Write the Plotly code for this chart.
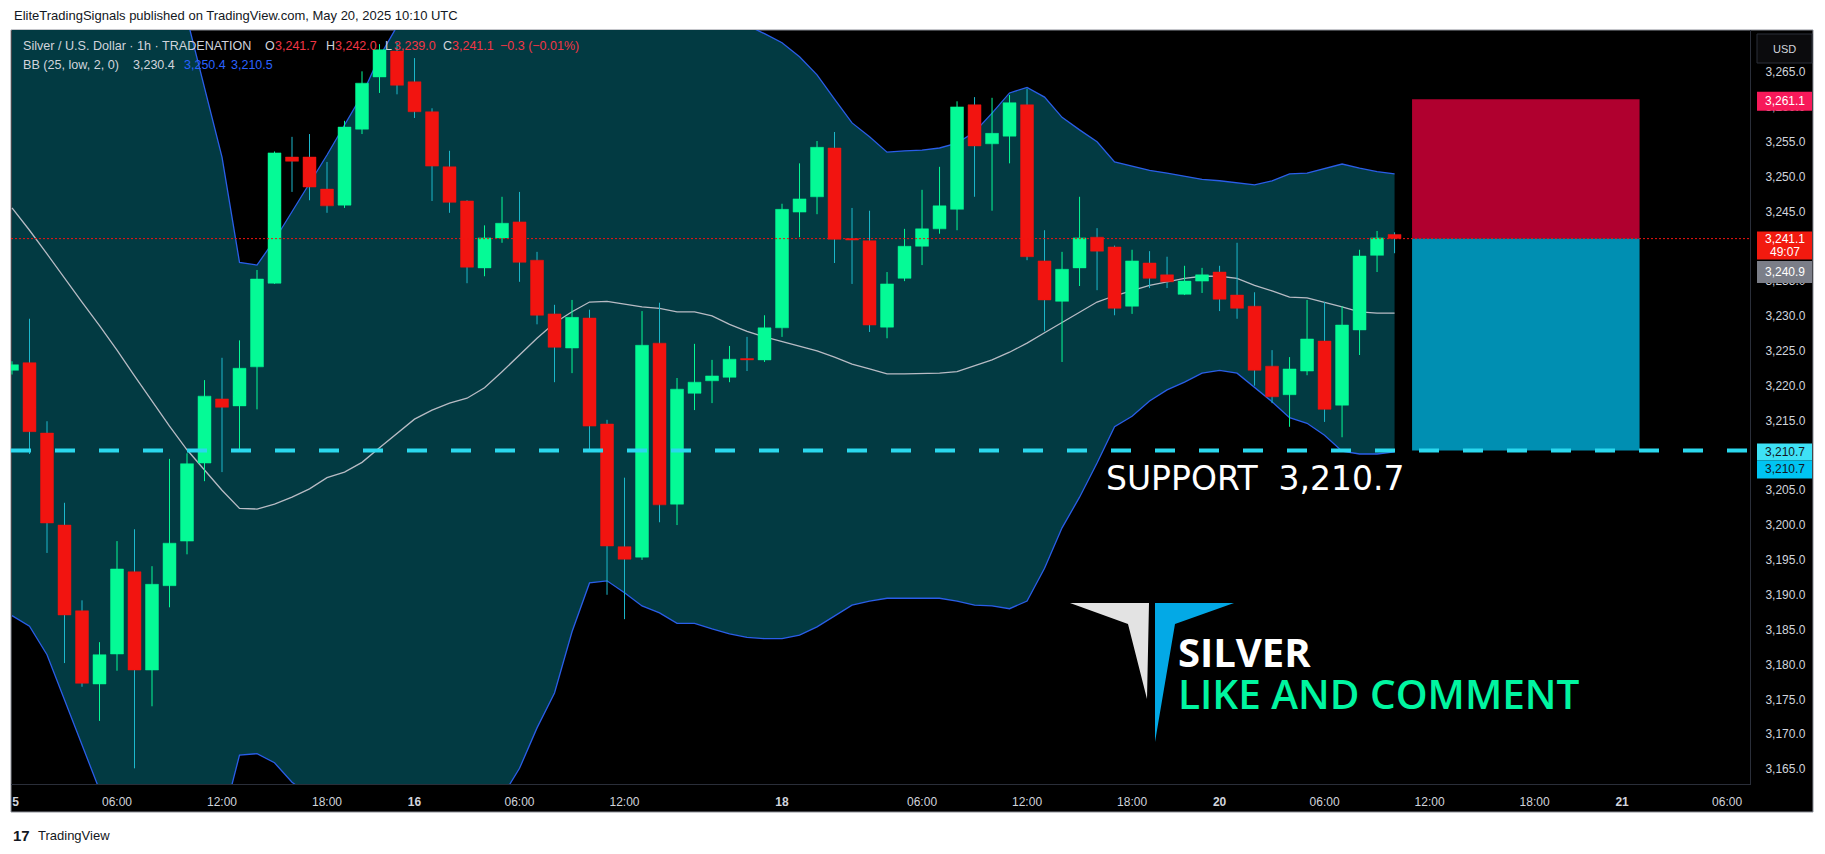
import plotly.graph_objects as go

# ---------------- data ----------------
bar_index = list(range(80))  # hourly bars, 0 = May 15 00:00

opens = [3222.2, 3223.3, 3213.2, 3200.0, 3187.7, 3177.2, 3181.5, 3193.3, 3179.2, 3191.3,
         3197.7, 3208.9, 3218.1, 3217.1, 3222.7, 3234.7, 3252.8, 3252.8, 3248.2, 3245.9,
         3256.8, 3264.3, 3268.0, 3263.6, 3259.3, 3251.4, 3246.5, 3236.9, 3241.2, 3243.5,
         3238.0, 3230.3, 3225.4, 3229.7, 3214.5, 3196.9, 3195.4, 3226.1, 3203.0, 3218.9,
         3220.7, 3221.2, 3223.9, 3223.7, 3228.3, 3244.9, 3247.1, 3254.1, 3241.1, 3240.8,
         3228.4, 3235.4, 3240.0, 3242.5, 3245.3, 3260.3, 3254.7, 3255.8, 3260.3, 3237.9,
         3232.1, 3236.9, 3241.3, 3239.9, 3231.4, 3237.6, 3235.9, 3233.1, 3235.0, 3236.3,
         3233.0, 3231.4, 3222.8, 3218.7, 3222.1, 3226.4, 3217.2, 3228.0, 3238.7, 3241.7]
highs = [3223.5, 3229.6, 3214.9, 3203.2, 3189.2, 3183.2, 3197.7, 3199.4, 3194.1, 3209.5,
         3210.3, 3220.8, 3224.0, 3226.5, 3236.6, 3253.6, 3255.7, 3256.1, 3252.1, 3258.0,
         3265.1, 3269.0, 3269.2, 3267.0, 3259.8, 3253.7, 3246.6, 3243.0, 3247.1, 3247.8,
         3239.2, 3231.6, 3232.3, 3230.9, 3215.1, 3206.8, 3230.7, 3231.9, 3221.1, 3226.0,
         3223.7, 3225.7, 3227.0, 3230.1, 3246.1, 3251.9, 3255.1, 3256.4, 3245.5, 3245.1,
         3236.3, 3242.5, 3248.1, 3251.4, 3260.8, 3261.4, 3261.3, 3261.7, 3262.6, 3242.3,
         3239.2, 3247.1, 3242.6, 3240.1, 3239.5, 3239.3, 3238.5, 3237.2, 3236.9, 3237.2,
         3240.5, 3233.4, 3225.1, 3224.1, 3232.3, 3232.0, 3231.4, 3239.5, 3242.2, 3242.0]
lows = [3221.6, 3210.2, 3196.0, 3180.2, 3176.8, 3171.9, 3179.1, 3165.1, 3174.0, 3188.2,
        3195.8, 3206.3, 3207.6, 3210.8, 3216.6, 3234.6, 3247.8, 3246.6, 3244.8, 3245.5,
        3256.1, 3262.0, 3261.8, 3258.4, 3246.5, 3244.8, 3234.7, 3235.7, 3240.5, 3234.9,
        3228.8, 3220.5, 3221.8, 3210.8, 3190.0, 3186.5, 3195.0, 3200.4, 3200.0, 3216.5,
        3217.5, 3220.5, 3222.1, 3223.4, 3227.0, 3241.3, 3244.6, 3237.6, 3234.6, 3227.7,
        3226.8, 3235.0, 3237.3, 3241.8, 3242.3, 3247.1, 3245.1, 3251.9, 3238.0, 3227.8,
        3223.4, 3234.3, 3233.7, 3230.1, 3230.3, 3234.0, 3234.0, 3233.0, 3233.3, 3230.7,
        3229.6, 3220.0, 3217.5, 3214.1, 3221.5, 3214.8, 3212.6, 3224.4, 3236.3, 3239.0]
closes = [3223.0, 3213.4, 3200.3, 3187.1, 3177.3, 3181.4, 3193.7, 3179.2, 3191.5, 3197.4,
          3208.8, 3218.5, 3216.9, 3222.5, 3235.3, 3253.4, 3252.2, 3248.5, 3245.8, 3257.1,
          3263.4, 3268.2, 3263.1, 3259.3, 3251.5, 3246.3, 3237.0, 3241.2, 3243.3, 3237.7,
          3230.1, 3225.5, 3229.8, 3214.2, 3197.0, 3195.1, 3225.8, 3202.9, 3219.5, 3220.5,
          3221.4, 3223.8, 3223.7, 3228.3, 3245.3, 3246.8, 3254.2, 3241.0, 3240.9, 3228.7,
          3234.6, 3240.0, 3242.5, 3245.8, 3260.0, 3254.4, 3256.2, 3260.6, 3238.5, 3232.3,
          3236.7, 3241.2, 3239.3, 3231.1, 3237.9, 3235.4, 3234.9, 3235.0, 3235.9, 3232.4,
          3231.1, 3222.2, 3218.4, 3222.4, 3226.7, 3216.6, 3228.7, 3238.6, 3241.2, 3241.1]

bb_upper = [3304.0, 3299.1, 3296.4, 3295.9, 3295.6, 3295.2, 3290.2, 3285.8, 3282.6, 3278.4,
            3272.7, 3262.7, 3252.8, 3237.7, 3237.3, 3240.9, 3244.9, 3249.1, 3253.1, 3257.4,
            3261.7, 3267.2, 3271.7, 3275.9, 3278.5, 3280.0, 3280.4, 3281.4, 3283.0, 3283.7,
            3282.7, 3282.1, 3276.5, 3272.3, 3272.2, 3273.1, 3274.2, 3274.8, 3275.3, 3275.3,
            3274.9, 3273.2, 3271.7, 3270.5, 3269.2, 3267.2, 3264.6, 3261.1, 3257.7, 3255.7,
            3253.5, 3253.7, 3253.8, 3254.1, 3254.8, 3256.4, 3259.1, 3262.0, 3262.8, 3261.4,
            3258.5, 3256.7, 3255.0, 3252.1, 3251.5, 3250.9, 3250.5, 3250.1, 3249.6, 3249.4,
            3249.1, 3248.8, 3249.4, 3250.4, 3250.5, 3251.2, 3251.8, 3251.2, 3250.7, 3250.4]
bb_basis = [3245.5, 3242.3, 3238.9, 3235.4, 3232.0, 3228.6, 3225.1, 3221.4, 3217.8, 3214.2,
            3210.8, 3207.9, 3205.0, 3202.4, 3202.3, 3203.0, 3204.0, 3205.2, 3206.8, 3207.6,
            3209.0, 3211.1, 3213.2, 3215.2, 3216.5, 3217.5, 3218.2, 3219.7, 3222.0, 3224.4,
            3226.8, 3229.0, 3230.6, 3232.0, 3232.1, 3231.7, 3231.3, 3231.1, 3230.6, 3230.6,
            3230.0, 3228.8, 3227.8, 3227.0, 3226.3, 3225.7, 3225.0, 3224.1, 3223.1, 3222.4,
            3221.7, 3221.7, 3221.7, 3221.8, 3222.0, 3222.8, 3223.7, 3224.8, 3226.1, 3227.6,
            3229.1, 3230.6, 3232.0, 3232.9, 3233.7, 3234.4, 3234.9, 3235.4, 3235.7, 3235.7,
            3235.4, 3234.4, 3233.6, 3232.7, 3232.6, 3232.0, 3231.3, 3230.6, 3230.4, 3230.4]
bb_lower = [3187.0, 3185.5, 3181.4, 3174.9, 3168.4, 3162.0, 3160.0, 3157.0, 3153.0, 3150.0,
            3148.9, 3153.1, 3157.2, 3167.0, 3167.2, 3165.9, 3163.1, 3161.3, 3160.5, 3157.8,
            3156.3, 3155.0, 3154.7, 3154.5, 3154.5, 3155.0, 3156.0, 3158.0, 3161.0, 3165.1,
            3170.9, 3175.9, 3184.7, 3191.7, 3192.0, 3190.3, 3188.4, 3187.4, 3185.9, 3185.9,
            3185.1, 3184.4, 3183.9, 3183.7, 3183.7, 3184.2, 3185.4, 3187.0, 3188.5, 3189.1,
            3189.5, 3189.5, 3189.5, 3189.5, 3189.1, 3188.5, 3188.4, 3188.0, 3189.1, 3193.8,
            3199.6, 3204.0, 3208.9, 3214.1, 3215.6, 3217.8, 3219.4, 3220.5, 3221.8, 3222.2,
            3221.8, 3219.8, 3217.7, 3215.4, 3214.6, 3212.9, 3210.6, 3210.2, 3210.2, 3210.5]

tick_index = [0.2, 6, 12, 18, 23, 29, 35, 44, 52, 58, 64, 69, 75, 81, 87, 92, 98]
tick_labels = ["<b>5</b>", "06:00", "12:00", "18:00", "<b>16</b>", "06:00", "12:00", "<b>18</b>",
               "06:00", "12:00", "18:00", "<b>20</b>", "06:00", "12:00", "18:00", "<b>21</b>", "06:00"]
# price ticks (3,240.0 and 3,210.0 sit fully under the price-label boxes)
price_ticks = [3165, 3170, 3175, 3180, 3185, 3190, 3195, 3200, 3205, 3215, 3220,
               3225, 3230, 3235, 3245, 3250, 3255, 3260, 3265]

support_level = 3210.7
stop_level = 3261.1
entry_level = 3241.1
target_level = 3210.7
position_bars = [80, 93]
last_price = 3241.1
bid_price = 3240.9
countdown = "49:07"

# ---------------- geometry / style ----------------
W, H = 1825, 854
PL, PR, PT, PB = 11, 1750, 30, 784
X_RANGE = [-0.057, 99.31]
Y_RANGE = [3162.85, 3271.03]

def PX(x):
    return (x - PL) / (PR - PL)

def PY(y):
    return (PB - y) / (PB - PT)

def price_to_py(p):
    return PB - (p - Y_RANGE[0]) / (Y_RANGE[1] - Y_RANGE[0]) * (PB - PT)

UP = "#05fa96"
DOWN = "#f21410"
WICK_DOWN = "#1cb8cc"
TEAL = "#023a42"
BAND = "#2a5ee8"

fig = go.Figure()

# Bollinger fill + lines
fig.add_trace(go.Scatter(x=bar_index, y=bb_lower, mode="lines",
                         line=dict(color=BAND, width=1.3), hoverinfo="skip"))
fig.add_trace(go.Scatter(x=bar_index, y=bb_upper, mode="lines", fill="tonexty",
                         fillcolor=TEAL, line=dict(color=BAND, width=1.3), hoverinfo="skip"))
fig.add_trace(go.Scatter(x=bar_index, y=bb_basis, mode="lines",
                         line=dict(color="#b8bbc4", width=1.3), hoverinfo="skip"))

# candles
hw = 0.37
wx = {True: [], False: []}
wy = {True: [], False: []}
bx = {True: [], False: []}
by = {True: [], False: []}
for k, o, h, l, c in zip(bar_index, opens, highs, lows, closes):
    up = c >= o
    wx[up] += [k, k, None]
    wy[up] += [l, h, None]
    lo, hi = min(o, c), max(o, c)
    if hi - lo < 0.18:
        hi = lo + 0.18
    bx[up] += [k - hw, k + hw, k + hw, k - hw, k - hw, None]
    by[up] += [lo, lo, hi, hi, lo, None]

fig.add_trace(go.Scatter(x=wx[False], y=wy[False], mode="lines",
                         line=dict(color=WICK_DOWN, width=1), hoverinfo="skip"))
fig.add_trace(go.Scatter(x=wx[True], y=wy[True], mode="lines",
                         line=dict(color=UP, width=1), hoverinfo="skip"))
fig.add_trace(go.Scatter(x=bx[False], y=by[False], mode="lines", fill="toself",
                         fillcolor=DOWN, line=dict(color=DOWN, width=0.5), hoverinfo="skip"))
fig.add_trace(go.Scatter(x=bx[True], y=by[True], mode="lines", fill="toself",
                         fillcolor=UP, line=dict(color=UP, width=0.5), hoverinfo="skip"))

shapes = []
# dark chart frame
shapes.append(dict(type="rect", xref="paper", yref="paper", x0=PX(11), x1=PX(1813),
                   y0=PY(812), y1=PY(30), fillcolor="black",
                   line=dict(color="#8a8d96", width=1), layer="below"))
# position tool
shapes.append(dict(type="rect", xref="x", yref="y", x0=position_bars[0], x1=position_bars[1],
                   y0=entry_level, y1=stop_level, fillcolor="#b0002f", line=dict(width=0), layer="above"))
shapes.append(dict(type="rect", xref="x", yref="y", x0=position_bars[0], x1=position_bars[1],
                   y0=target_level, y1=entry_level, fillcolor="#008fb2", line=dict(width=0), layer="above"))
# last price dotted line
shapes.append(dict(type="line", xref="paper", yref="y", x0=0, x1=1, y0=last_price, y1=last_price,
                   line=dict(color=DOWN, width=1, dash="2px,2px"), layer="above"))
# support dashed line
shapes.append(dict(type="line", xref="paper", yref="y", x0=0, x1=1, y0=support_level, y1=support_level,
                   line=dict(color="#2bd8ee", width=4, dash="20px,24px"), layer="above"))

annotations = []

def label_box(price, color, text, txtcolor, shift_top, shift_bottom, lines=None):
    yc = price_to_py(price)
    shapes.append(dict(type="rect", xref="paper", yref="paper", x0=PX(1757), x1=PX(1812),
                       y0=PY(yc + shift_bottom), y1=PY(yc + shift_top), fillcolor=color,
                       line=dict(width=0), layer="above"))
    if lines is None:
        lines = [(text, (shift_top + shift_bottom) / 2)]
    for t, off in lines:
        annotations.append(dict(xref="paper", yref="paper", x=PX(1784.5), y=PY(yc + off),
                                text=t, showarrow=False, xanchor="center", yanchor="middle",
                                font=dict(family="Liberation Sans", size=12, color=txtcolor)))

label_box(stop_level, "#f7195a", f"{stop_level:,.1f}", "white", -7.5, 11.5)
label_box(last_price, "#f21a0f", None, "white", -7, 21,
          lines=[(f"{last_price:,.1f}", 0.5), (countdown, 13.5)])
label_box(bid_price, "#7b7e88", f"{bid_price:,.1f}", "white", 21, 43)
label_box(support_level, "#3ee1f5", f"{support_level:,.1f}", "#131722", -7, 10)
label_box(support_level, "#00c4f2", f"{support_level:,.1f}", "#131722", 10, 28)

# USD box
shapes.append(dict(type="rect", xref="paper", yref="paper", x0=PX(1757), x1=PX(1812),
                   y0=PY(63), y1=PY(34), fillcolor="#0b0b0d",
                   line=dict(color="#2a2e39", width=1), layer="above"))
annotations.append(dict(xref="paper", yref="paper", x=PX(1784.5), y=PY(48.5), text="USD",
                        showarrow=False, xanchor="center", yanchor="middle",
                        font=dict(family="Liberation Sans", size=11, color="#d1d4dc")))

# logo polygons
def poly(points, color):
    path = "M " + " L ".join(f"{PX(x):.5f},{PY(y):.5f}" for x, y in points) + " Z"
    shapes.append(dict(type="path", xref="paper", yref="paper", path=path,
                       fillcolor=color, line=dict(width=0), layer="above"))

poly([(1070, 603), (1149, 603), (1147, 699), (1128, 624)], "#e3e3e3")
poly([(1155, 603), (1234, 603), (1175, 624), (1155, 742)], "#03a9e6")

def txt(x, y, text, size, color, family="Liberation Sans", anchor="left", weight="normal", height=None):
    a = dict(xref="paper", yref="paper", x=PX(x), y=PY(y), text=text,
             showarrow=False, xanchor=anchor, yanchor="middle",
             font=dict(family=family, size=size, color=color, weight=weight))
    if height is not None:
        a["height"] = height
        a["valign"] = "middle"
    annotations.append(a)

# header + footer
txt(12, 15.5, "EliteTradingSignals published on TradingView.com, May 20, 2025 10:10 UTC", 13, "#131722")
txt(11, 835, "<b>17</b>", 15, "#131722")
txt(36, 835.5, "TradingView", 13, "#131722")

# legend lines
LBL = "#d1d4dc"
VAL = "#f23645"
txt(20.5, 46.5, "Silver / U.S. Dollar · 1h · TRADENATION", 12.6, LBL)
txt(263, 46.5, "O", 12.5, LBL)
txt(273, 46.5, f"{opens[-1]:,.1f}", 12.5, VAL)
txt(323.5, 46.5, "H", 12.5, LBL)
txt(333, 46.5, f"{highs[-1]:,.1f}", 12.5, VAL)
txt(382.5, 46.5, "L", 12.5, LBL)
txt(392, 46.5, f"{lows[-1]:,.1f}", 12.5, VAL)
txt(440.5, 46.5, "C", 12.5, LBL)
txt(449.5, 46.5, f"{closes[-1]:,.1f}", 12.5, VAL)
txt(498, 46.5, "−0.3 (−0.01%)", 12.5, VAL)
txt(20.5, 65, "BB (25, low, 2, 0)", 12.6, LBL)
txt(131, 65, f"{bb_basis[-1]:,.1f}", 12.5, LBL)
txt(182, 65, f"{bb_upper[-1]:,.1f}", 12.5, "#2962ff")
txt(229, 65, f"{bb_lower[-1]:,.1f}", 12.5, "#2962ff")

# big texts
txt(1104, 479, f"SUPPORT\u00a0\u00a0{support_level:,.1f}", 33, "white", family="DejaVu Sans")
txt(1176, 651, "SILVER", 40, "white", family="Open Sans", weight="bold", height=34)
txt(1176, 693, "LIKE AND COMMENT", 40.5, "#00f5a0", family="Open Sans", weight=600, height=34)

fig.update_layout(
    width=W, height=H,
    margin=dict(l=PL, r=W - PR, t=PT, b=H - PB, autoexpand=False),
    paper_bgcolor="white", plot_bgcolor="black",
    showlegend=False, shapes=shapes, annotations=annotations,
    xaxis=dict(range=X_RANGE, tickvals=tick_index, ticktext=tick_labels, showgrid=False,
               zeroline=False, ticks="outside", ticklen=7, tickcolor="rgba(0,0,0,0)",
               tickfont=dict(family="Liberation Sans", size=12, color="#d1d4dc"),
               showline=True, linecolor="#2a2e39", linewidth=1, fixedrange=True),
    yaxis=dict(range=Y_RANGE, side="right", tickvals=price_ticks, tickformat=",.1f",
               showgrid=False, zeroline=False, ticks="outside", ticklen=12,
               tickcolor="rgba(0,0,0,0)",
               tickfont=dict(family="Liberation Sans", size=12, color="#d1d4dc"),
               showline=True, linecolor="#2a2e39", linewidth=1, fixedrange=True),
)

fig.write_html("out.html", config={"displayModeBar": False},
               post_script="document.body.style.margin='0';document.body.style.overflow='hidden';")
